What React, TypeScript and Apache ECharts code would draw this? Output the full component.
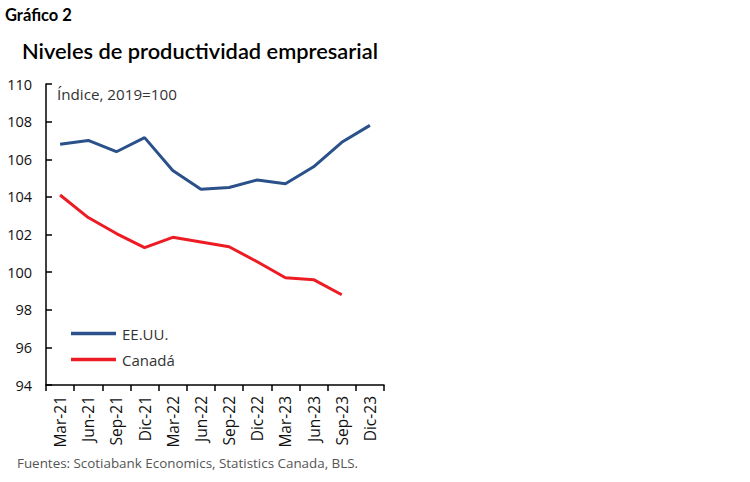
import React, { useEffect, useRef } from 'react';
import * as echarts from 'echarts';

const categories = ['Mar-21', 'Jun-21', 'Sep-21', 'Dic-21', 'Mar-22', 'Jun-22', 'Sep-22', 'Dic-22', 'Mar-23', 'Jun-23', 'Sep-23', 'Dic-23'];
const usValues = [106.8, 107.0, 106.4, 107.15, 105.4, 104.4, 104.5, 104.9, 104.7, 105.6, 106.9, 107.8];
const canadaValues = [104.1, 102.9, 102.05, 101.3, 101.85, 101.6, 101.35, 100.55, 99.7, 99.6, 98.8, null];

const FONT = 'Lato, "Noto Sans", sans-serif';
const BODY = '"Open Sans", "Noto Sans", sans-serif';

export default function App() {
  const chartRef = useRef<HTMLDivElement>(null);

  useEffect(() => {
    if (!chartRef.current) return;
    const chart = echarts.init(chartRef.current, null, { renderer: 'svg' });

    chart.setOption({
      animation: false,
      textStyle: { fontFamily: BODY },
      grid: { left: 46, right: 366, top: 84, bottom: 97 },
      graphic: [
        {
          type: 'text', left: 5, top: 6,
          style: { text: 'Gráfico 2', fontSize: 16.5, fontWeight: 'bold', fill: '#000', fontFamily: FONT }
        },
        {
          type: 'text', left: 22, top: 39,
          style: { text: 'Niveles de productividad empresarial', fontSize: 21.8, fontWeight: 600, fill: '#000', fontFamily: FONT }
        },
        {
          type: 'text', left: 57, top: 86,
          style: { text: 'Índice, 2019=100', fontSize: 15.2, fill: '#333', fontFamily: BODY }
        },
        {
          type: 'text', left: 17, top: 456,
          style: { text: 'Fuentes: Scotiabank Economics, Statistics Canada, BLS.', fontSize: 13.4, fill: '#555', fontFamily: BODY }
        }
      ],
      legend: {
        orient: 'vertical',
        left: 66,
        top: 321,
        icon: 'rect',
        itemWidth: 45,
        itemHeight: 3.5,
        itemGap: 11,
        textStyle: { fontSize: 15, color: '#333', fontFamily: BODY, padding: [0, 0, 0, 1] },
        data: ['EE.UU.', 'Canadá']
      },
      xAxis: {
        type: 'category',
        data: categories,
        boundaryGap: true,
        axisLine: { lineStyle: { color: '#000', width: 1.5 } },
        axisTick: { show: true, inside: false, length: 6, lineStyle: { color: '#000', width: 1.5 } },
        axisLabel: { rotate: 90, fontSize: 15.5, color: '#111', margin: 11, interval: 0, fontFamily: BODY }
      },
      yAxis: {
        type: 'value',
        min: 94,
        max: 110,
        interval: 2,
        axisLine: { show: true, lineStyle: { color: '#000', width: 1.5 } },
        axisTick: { show: true, inside: true, length: 6, lineStyle: { color: '#000', width: 1.5 } },
        splitLine: { show: false },
        axisLabel: { fontSize: 14.5, color: '#111', margin: 14, fontFamily: BODY }
      },
      series: [
        {
          name: 'EE.UU.',
          type: 'line',
          data: usValues,
          symbol: 'none',
          lineStyle: { color: '#2A5189', width: 3 },
          itemStyle: { color: '#2A5189' }
        },
        {
          name: 'Canadá',
          type: 'line',
          data: canadaValues,
          symbol: 'none',
          lineStyle: { color: '#ED1C24', width: 3 },
          itemStyle: { color: '#ED1C24' }
        }
      ]
    });

    return () => {
      chart.dispose();
    };
  }, []);

  return <div ref={chartRef} style={{ width: 750, height: 482, position: 'absolute', left: 0, top: 0 }} />;
}
